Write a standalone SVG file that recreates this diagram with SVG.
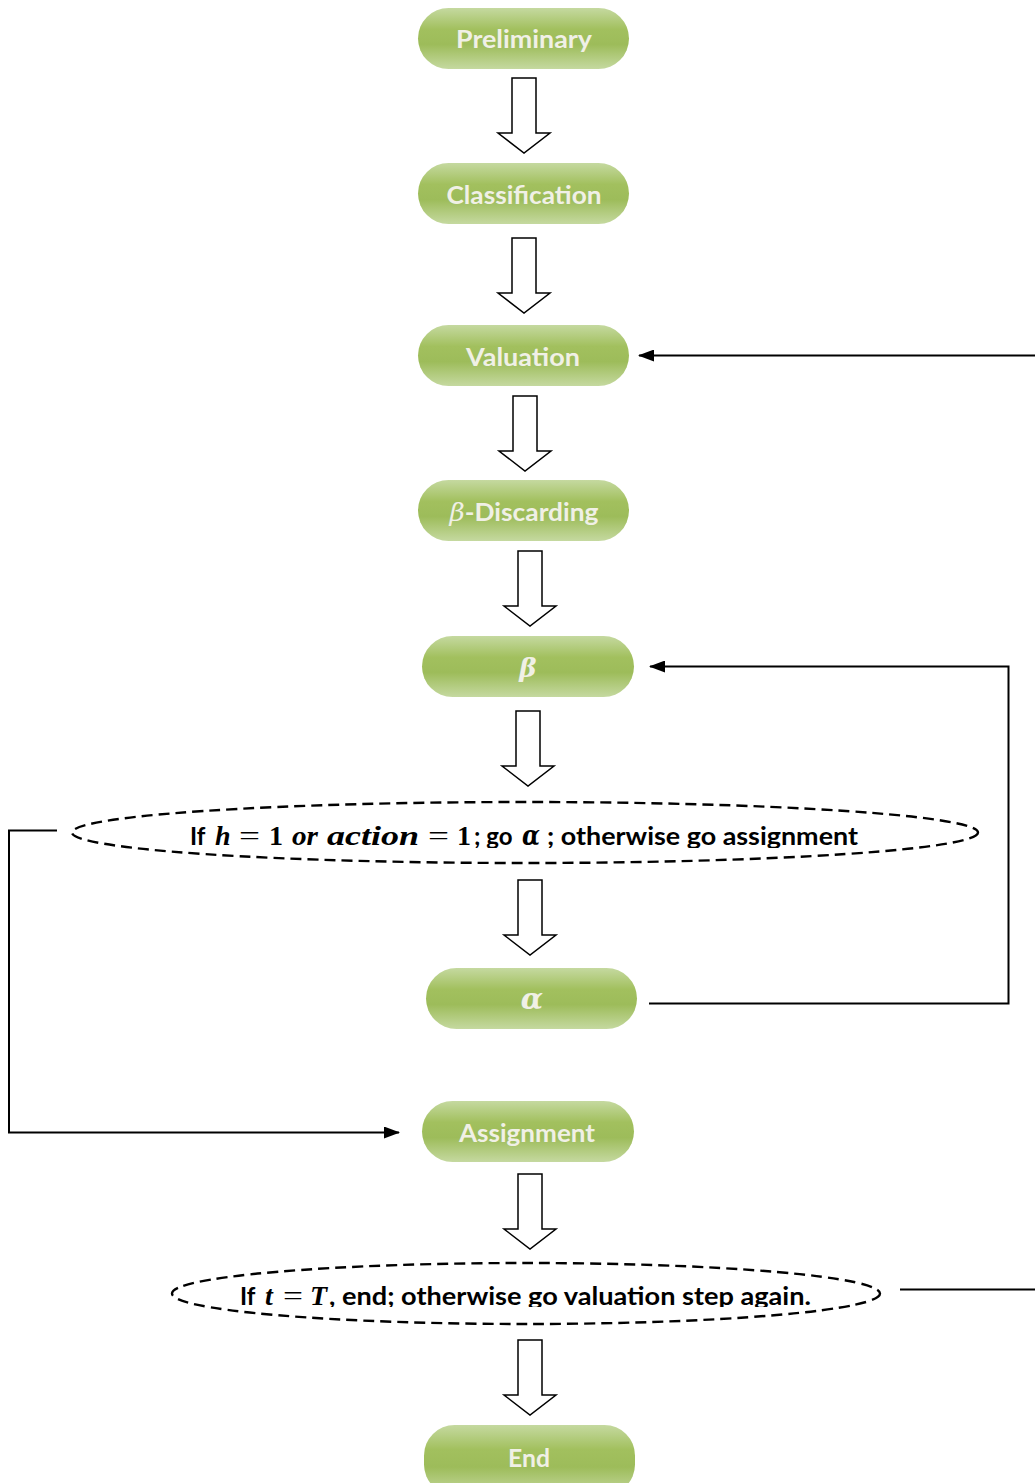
<svg xmlns="http://www.w3.org/2000/svg" width="1035" height="1483" viewBox="0 0 1035 1483">
  <defs>
    <linearGradient id="pillFill" x1="0" y1="0" x2="0" y2="1">
      <stop offset="0" stop-color="#c5d9a0"/>
      <stop offset="0.35" stop-color="#a2c05e"/>
      <stop offset="0.6" stop-color="#9dbc5a"/>
      <stop offset="1" stop-color="#c5d9a0"/>
    </linearGradient>
    <!-- hollow block arrow, origin at top centre of the shaft -->
    <path id="blockArrow" d="M -12 0 H 12 V 55 H 26 L 0 75 L -26 55 H -12 Z"/>
    <marker id="tri" viewBox="0 0 16 12" refX="15" refY="6" markerWidth="16" markerHeight="12" markerUnits="userSpaceOnUse" orient="auto">
      <path d="M 0 0 L 16 6 L 0 12 Z" fill="#000"/>
    </marker>
    <clipPath id="clipCond1"><rect x="60" y="790" width="930" height="58"/></clipPath>
    <clipPath id="clipCond2"><rect x="160" y="1250" width="740" height="57"/></clipPath>
  </defs>
  <style>
    .pill { fill: url(#pillFill); }
    .ptxt { font-family: Lato, "Open Sans", sans-serif; font-weight: bold; font-size: 24px; fill: #f0f0e6; text-anchor: middle; }
    .pmath { font-family: "DejaVu Serif", "Liberation Serif", serif; font-style: italic; font-weight: normal; }
    .greek { font-family: "DejaVu Serif", "Liberation Serif", serif; font-style: italic; font-weight: bold; font-size: 27px; }
    .blk { fill: #fff; stroke: #000; stroke-width: 1.5; stroke-linejoin: miter; }
    .cond { fill: none; stroke: #000; stroke-width: 2.4; stroke-dasharray: 11 6; }
    .ctxt { font-family: Lato, "Open Sans", sans-serif; font-weight: bold; font-size: 24px; fill: #000; }
    .m { font-family: "Liberation Serif", "DejaVu Serif", serif; font-weight: bold; font-style: italic; font-size: 28px; }
    .mr { font-family: "Liberation Serif", "DejaVu Serif", serif; font-weight: normal; font-style: normal; font-size: 28px; }
    .mb { font-family: "Liberation Serif", "DejaVu Serif", serif; font-weight: bold; font-style: normal; font-size: 28px; }
    .link { fill: none; stroke: #000; stroke-width: 2; }
  </style>

  <!-- step nodes -->
  <g id="n-preliminary">
    <rect class="pill" x="418" y="8" width="211" height="61" rx="30.5"/>
    <text class="ptxt" x="524" y="48" textLength="136" lengthAdjust="spacingAndGlyphs">Preliminary</text>
  </g>
  <g id="n-classification">
    <rect class="pill" x="418" y="163" width="211" height="61" rx="30.5"/>
    <text class="ptxt" x="524" y="204" textLength="155" lengthAdjust="spacingAndGlyphs">Classification</text>
  </g>
  <g id="n-valuation">
    <rect class="pill" x="418" y="325" width="211" height="61" rx="30.5"/>
    <text class="ptxt" x="523" y="366" textLength="114" lengthAdjust="spacingAndGlyphs">Valuation</text>
  </g>
  <g id="n-beta-discarding">
    <rect class="pill" x="418" y="480" width="211" height="61" rx="30.5"/>
    <text class="ptxt" x="524" y="521" textLength="149" lengthAdjust="spacingAndGlyphs"><tspan class="pmath">β</tspan>-Discarding</text>
  </g>
  <g id="n-beta">
    <rect class="pill" x="422" y="636" width="212" height="61" rx="30.5"/>
    <text class="ptxt" x="528" y="677"><tspan class="greek" style="font-size:26px">β</tspan></text>
  </g>
  <g id="n-cond-alpha">
    <ellipse class="cond" cx="525" cy="832.5" rx="453" ry="30.5"/>
    <text class="ctxt" y="845" clip-path="url(#clipCond1)"><tspan x="190">If</tspan><tspan class="m" x="215">h</tspan><tspan class="mr" x="239" textLength="21" lengthAdjust="spacingAndGlyphs">=</tspan><tspan class="mb" x="269">1</tspan><tspan class="m" x="292" textLength="26" lengthAdjust="spacingAndGlyphs">or</tspan><tspan class="m" x="327" textLength="92" lengthAdjust="spacingAndGlyphs">action</tspan><tspan class="mr" x="428" textLength="21" lengthAdjust="spacingAndGlyphs">=</tspan><tspan class="mb" x="457">1</tspan><tspan x="474">; go</tspan><tspan class="greek" x="522" textLength="18" lengthAdjust="spacingAndGlyphs">α</tspan><tspan x="547" textLength="311" lengthAdjust="spacingAndGlyphs">; otherwise go assignment</tspan></text>
  </g>
  <g id="n-alpha">
    <rect class="pill" x="426" y="968" width="211" height="61" rx="30.5"/>
    <text class="ptxt" x="532" y="1009"><tspan class="greek" style="font-size:29px">α</tspan></text>
  </g>
  <g id="n-assignment">
    <rect class="pill" x="422" y="1101" width="212" height="61" rx="30.5"/>
    <text class="ptxt" x="527" y="1142" textLength="136" lengthAdjust="spacingAndGlyphs">Assignment</text>
  </g>
  <g id="n-cond-end">
    <ellipse class="cond" cx="526" cy="1293.5" rx="354" ry="30.5"/>
    <text class="ctxt" y="1305" clip-path="url(#clipCond2)"><tspan x="240">If</tspan><tspan class="m" x="265">t</tspan><tspan class="mr" x="283" textLength="20" lengthAdjust="spacingAndGlyphs">=</tspan><tspan class="m" x="310">T</tspan><tspan x="329" textLength="482" lengthAdjust="spacingAndGlyphs">, end; otherwise go valuation step again.</tspan></text>
  </g>
  <g id="n-end">
    <rect class="pill" x="424" y="1425" width="211" height="70" rx="30.5"/>
    <text class="ptxt" x="529" y="1467" textLength="42" lengthAdjust="spacingAndGlyphs">End</text>
  </g>

  <!-- connectors -->
  <g id="connectors">
    <use href="#blockArrow" class="blk" x="524" y="78"/>
    <use href="#blockArrow" class="blk" x="524" y="238"/>
    <use href="#blockArrow" class="blk" x="525" y="396"/>
    <use href="#blockArrow" class="blk" x="530" y="551"/>
    <use href="#blockArrow" class="blk" x="528" y="711"/>
    <use href="#blockArrow" class="blk" x="530" y="880"/>
    <use href="#blockArrow" class="blk" x="530" y="1174"/>
    <use href="#blockArrow" class="blk" x="530" y="1340"/>

    <!-- back to valuation -->
    <path class="link" d="M 1035 355.5 H 639" marker-end="url(#tri)"/>
    <!-- alpha loops back to beta -->
    <path class="link" d="M 649 1003.5 H 1008.5 V 666.5 H 650" marker-end="url(#tri)"/>
    <!-- otherwise go assignment -->
    <path class="link" d="M 57 830.5 H 9 V 1132.5 H 399" marker-end="url(#tri)"/>
    <!-- otherwise go valuation step again -->
    <path class="link" d="M 900 1289.5 H 1035"/>
  </g>
</svg>
